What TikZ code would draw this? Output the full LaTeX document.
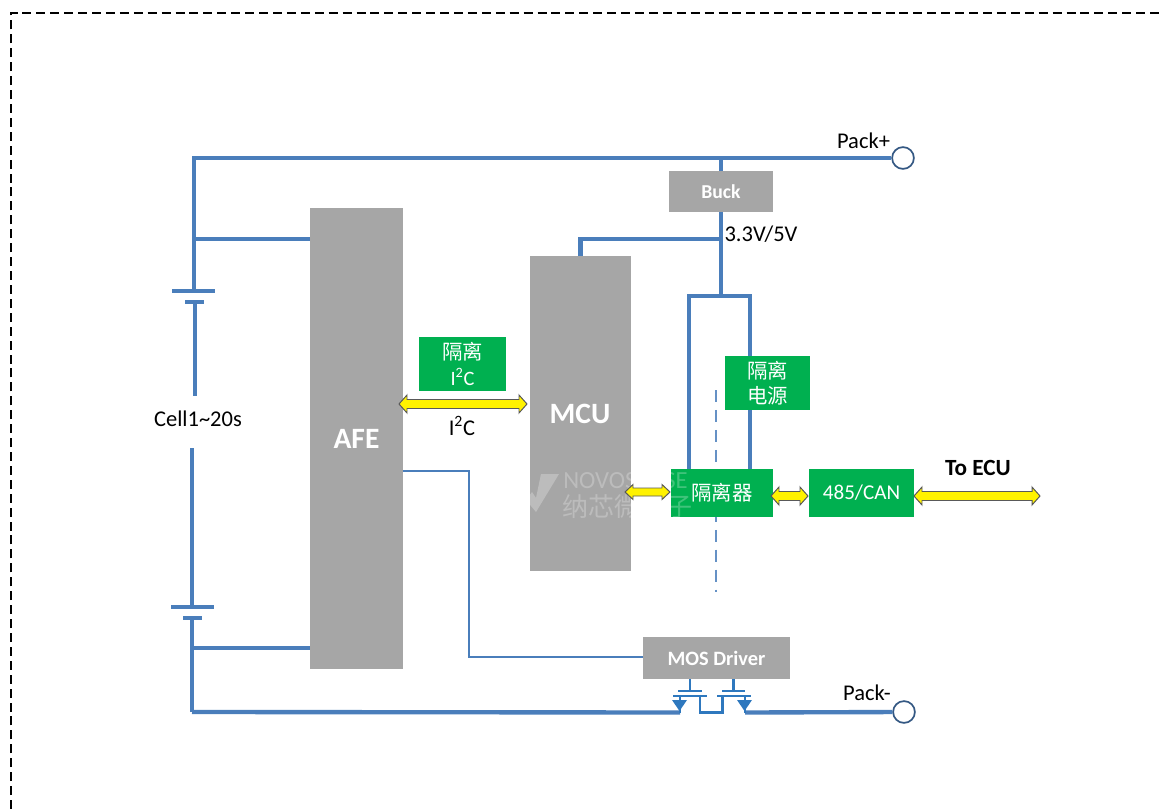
\documentclass[tikz,border=0pt]{standalone}
\usepackage{fontspec}
\setmainfont{Carlito}
\newfontfamily\cjk{Noto Sans CJK SC}
\usetikzlibrary{calc}
\definecolor{wireblue}{HTML}{4A7EBB}
\definecolor{fetblue}{HTML}{2E78BE}
\definecolor{boxgray}{HTML}{A6A6A6}
\definecolor{boxgreen}{HTML}{00B050}
\tikzset{
    bluewire/.style={draw=wireblue, line width=3.1pt},
    thinwire/.style={draw=wireblue, line width=1.1pt},
    fetwire/.style={draw=fetblue, line width=1.7pt},
    graybox/.style={fill=boxgray, inner sep=0pt, text=white, font=\bfseries\fontsize{14}{16}\selectfont},
    greenbox/.style={fill=boxgreen, inner sep=0pt, text=white, align=center, font=\fontsize{14.5}{18}\selectfont},
    yellowlink/.style={draw=black!65, fill=yellow, line width=0.7pt, line join=miter},
    terminal/.style={circle, draw=wireblue!70!black, fill=white, line width=1.2pt, minimum size=15.5pt, inner sep=0pt},
    textlabel/.style={inner sep=0pt, font=\fontsize{16}{18}\selectfont},
    logotext/.style={inner sep=0pt, text=white, opacity=0.25, font=\fontsize{17.5}{20}\selectfont}
}
% \linkarrow{head half height}{shaft half height}{from}{to}
\newcommand{\linkarrow}[4]{
    \draw[yellowlink] (#3) -- ++(8,-#1) -- ++(0,#1-#2) -- ($(#4)+(-8,-#2)$) -- ++(0,#2-#1) -- (#4)
        -- ++(-8,#1) -- ++(0,#2-#1) -- ($(#3)+(8,#2)$) -- ++(0,#1-#2) -- cycle;
}
\begin{document}
\begin{tikzpicture}[x=0.025cm, y=-0.025cm]
    \useasboundingbox (0,0) rectangle (1160,809);
    % outer frame
    \coordinate (frameA) at (11,809);
    \coordinate (frameB) at (11,13);
    \coordinate (frameC) at (1160,13);
    \draw[line width=1.1pt, dash pattern=on 6.4pt off 3.5pt] (frameA) -- (frameB) -- (frameC);
    % isolation barrier
    \coordinate (barrierT) at (716,390);
    \coordinate (barrierB) at (716,592);
    \draw[draw=wireblue!85!white, line width=2pt, dash pattern=on 8.5pt off 5.7pt] (barrierT) -- (barrierB);
    % blocks
    \node[graybox, minimum width=2.3cm, minimum height=11.525cm, font=\bfseries\fontsize{21}{24}\selectfont] (afe) at (356.5,438.5) {AFE};
    \node[graybox, minimum width=2.525cm, minimum height=7.85cm] (mcu) at (580.5,413.5) {};
    \node[inner sep=0pt, text=white, font=\bfseries\fontsize{21}{24}\selectfont] (mcutext) at (580,414) {MCU};
    \node[graybox, minimum width=2.6cm, minimum height=1.025cm] (buck) at (721,191.5) {Buck};
    \node[graybox, minimum width=3.675cm, minimum height=1.05cm, font=\bfseries\fontsize{14.5}{16}\selectfont] (driver) at (716.5,658) {MOS Driver};
    \node[greenbox, minimum width=2.175cm, minimum height=1.35cm] (i2cbox) at (462.5,364) {{\cjk 隔离}\\I\textsuperscript{2}C};
    \node[greenbox, minimum width=2.125cm, minimum height=1.35cm] (power) at (767.5,383) {\cjk 隔离\\\cjk 电源};
    \node[greenbox, minimum width=2.55cm, minimum height=1.2cm] (iso) at (722,493) {\cjk 隔离器};
    \node[greenbox, minimum width=2.625cm, minimum height=1.2cm, font=\fontsize{15}{18}\selectfont] (can) at (861.5,493) {485/CAN};
    % terminals
    \node[terminal] (packp) at (903,158) {};
    \node[terminal] (packm) at (904,712) {};
    % junctions
    \coordinate (topL) at (194,158);
    \coordinate (topB) at (721,158);
    \coordinate (feed) at (721,239);
    \coordinate (split) at (721,296);
    \coordinate (splitL) at (689,296);
    \coordinate (splitR) at (750,296);
    \coordinate (afeT) at (194,239);
    \coordinate (afeB) at (192,648);
    \coordinate (botL) at (192,712);
    \coordinate (sigA) at (469,471);
    \coordinate (sigB) at (469,657);
    % cells
    \coordinate (cellA) at (194,291);
    \coordinate (cellB) at (195,302);
    \coordinate (cellC) at (195,396);
    \coordinate (cellD) at (192,448);
    \coordinate (cellE) at (192,607);
    \coordinate (cellF) at (192,618);
    \coordinate (plateA1) at (172,291);
    \coordinate (plateA2) at (215,291);
    \coordinate (plateB1) at (185,302);
    \coordinate (plateB2) at (204,302);
    \coordinate (plateC1) at (171,607);
    \coordinate (plateC2) at (214,607);
    \coordinate (plateD1) at (183,618);
    \coordinate (plateD2) at (202,618);
    \draw[bluewire] (cellA) -- (topL) -- (packp);
    \draw[bluewire] (topB) -- (buck.north);
    \draw[bluewire] (buck.south) -- (split);
    \draw[bluewire] (mcu.north) -- (mcu.north |- feed) -- (feed);
    \draw[bluewire] (iso.north -| splitL) -- (splitL) -- (splitR) -- (power.north -| splitR);
    \draw[bluewire] (power.south -| splitR) -- (iso.north -| splitR);
    \draw[bluewire] (afeT) -- (afeT -| afe.west);
    \draw[bluewire] (afeB) -- (afeB -| afe.west);
    \draw[bluewire] (plateA1) -- (plateA2);
    \draw[bluewire] (plateB1) -- (plateB2);
    \draw[bluewire] (plateC1) -- (plateC2);
    \draw[bluewire] (plateD1) -- (plateD2);
    \draw[bluewire] (cellB) -- (cellC);
    \draw[bluewire] (cellD) -- (cellE);
    \draw[bluewire] (cellF) -- (botL);
    \draw[thinwire] (afe.east |- sigA) -- (sigA) -- (sigB) -- (driver.west |- sigB);
    % MOS pair
    \coordinate (fetAs) at (680,712.5);
    \coordinate (fetAd) at (700,712.5);
    \coordinate (fetBs) at (722.5,712.5);
    \coordinate (fetBd) at (745,712.5);
    \draw[bluewire] (botL) -- (fetAs);
    \draw[bluewire] (fetBd) -- (packm);
    \draw[fetwire] (fetAs) -- (680,696) (673,696) -- (707,696) (700,696) -- (fetAd) -- (fetBs) -- (722.5,696) (717,696) -- (751,696) (745,696) -- (fetBd);
    \draw[fetwire] (690,679) -- (690,691) (678,691) -- (702,691);
    \draw[fetwire] (733.5,679) -- (733.5,691) (722,691) -- (745,691);
    \fill[fetblue] (672,700) -- (687,700) -- (679.5,711) -- cycle;
    \fill[fetblue] (737,700) -- (752,700) -- (744.5,711) -- cycle;
    % watermark
    \fill[white, opacity=0.25] (541,474) -- (559,474) -- (536,512) -- (526,500) -- (532,492) -- (536,498) -- cycle;
    \node[logotext, anchor=west] (markA) at (563,481) {NOVOSENSE};
    \node[logotext, anchor=west, font=\cjk\fontsize{18.5}{20}\selectfont] (markB) at (562,507) {纳芯微电子};
    % links
    \coordinate (linkA) at (399,404);
    \coordinate (linkB) at (527,404);
    \coordinate (linkC) at (625,492);
    \coordinate (linkD) at (670,492);
    \coordinate (linkE) at (771,496);
    \coordinate (linkF) at (808,496);
    \coordinate (linkG) at (914,496);
    \coordinate (linkH) at (1040,496);
    \linkarrow{9}{4.5}{linkA}{linkB}
    \linkarrow{7.5}{4}{linkC}{linkD}
    \linkarrow{9}{4.5}{linkE}{linkF}
    \linkarrow{9}{4.5}{linkG}{linkH}
    % labels
    \node[textlabel] (pluslabel) at (863.5,141) {Pack+};
    \node[textlabel] (minuslabel) at (867,693) {Pack-};
    \node[textlabel] (vlabel) at (761,234) {3.3V/5V};
    \node[textlabel] (celllabel) at (198,419) {Cell1\textasciitilde 20s};
    \node[textlabel] (i2clabel) at (462,426) {I\textsuperscript{2}C};
    \node[textlabel, font=\bfseries\fontsize{16.5}{18}\selectfont] (eculabel) at (978,468) {To ECU};
\end{tikzpicture}
\end{document}
